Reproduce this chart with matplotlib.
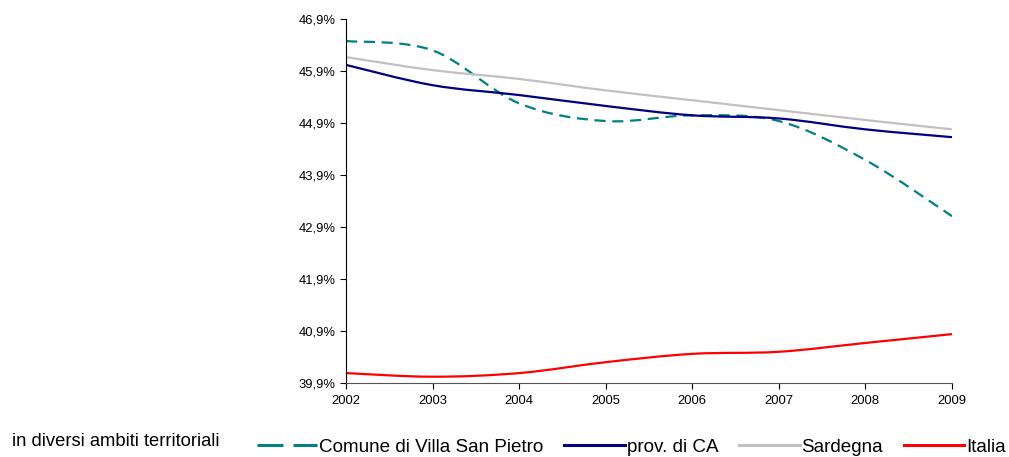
import numpy as np
import matplotlib.pyplot as plt
from matplotlib.path import Path
from matplotlib.patches import PathPatch
from matplotlib.lines import Line2D

plt.rcParams['font.family'] = ['Liberation Sans', 'DejaVu Sans']

# Data (percent)
years = [2002, 2003, 2004, 2005, 2006, 2007, 2008, 2009]
comune = [46.48, 46.30, 45.28, 44.94, 45.05, 44.94, 44.19, 43.11]
prov_ca = [46.02, 45.63, 45.44, 45.23, 45.05, 44.99, 44.78, 44.63]
sardegna = [46.17, 45.92, 45.75, 45.53, 45.34, 45.15, 44.96, 44.78]
italia = [40.09, 40.02, 40.09, 40.30, 40.46, 40.50, 40.67, 40.84]

yticks = [39.9, 40.9, 41.9, 42.9, 43.9, 44.9, 45.9, 46.9]
ytick_labels = ['39,9%', '40,9%', '41,9%', '42,9%', '43,9%', '44,9%', '45,9%', '46,9%']

series = [
    ('Comune di Villa San Pietro', comune, '#008080', (0, (5, 3)), (0, (8.5, 3.3))),
    ('prov. di CA', prov_ca, '#000080', '-', '-'),
    ('Sardegna', sardegna, '#C0C0C0', '-', '-'),
    ('Italia', italia, '#FF0000', '-', '-'),
]


def smooth_path(x, y):
    # Excel-style smoothed line: cubic bezier segments through the data points
    x = np.asarray(x, float)
    y = np.asarray(y, float)
    verts = [(x[0], y[0])]
    codes = [Path.MOVETO]
    n = len(x)
    for i in range(n - 1):
        x0, y0 = (x[i - 1], y[i - 1]) if i > 0 else (x[i], y[i])
        x3, y3 = (x[i + 2], y[i + 2]) if i + 2 < n else (x[i + 1], y[i + 1])
        c1 = (x[i] + (x[i + 1] - x0) / 6, y[i] + (y[i + 1] - y0) / 6)
        c2 = (x[i + 1] - (x3 - x[i]) / 6, y[i + 1] - (y3 - y[i]) / 6)
        verts += [c1, c2, (x[i + 1], y[i + 1])]
        codes += [Path.CURVE4] * 3
    return Path(verts, codes)


fig = plt.figure(figsize=(10.09, 4.57), dpi=100)
ax = fig.add_axes([0.343, 0.162, 0.6005, 0.796])

handles = []
for name, vals, color, ls, leg_ls in series:
    patch = PathPatch(smooth_path(years, vals), facecolor='none', edgecolor=color,
                      linewidth=1.6, linestyle=ls, capstyle='butt')
    ax.add_patch(patch)
    handles.append(Line2D([], [], color=color, linewidth=2.2, linestyle=leg_ls, label=name))

ax.set_xlim(2002, 2009)
ax.set_ylim(39.9, 46.9)
ax.set_xticks(years)
ax.set_xticklabels([str(y) for y in years], fontsize=9.4)
ax.set_yticks(yticks)
ax.set_yticklabels(ytick_labels, fontsize=9.4)
ax.tick_params(axis='y', length=4, width=0.8, pad=3.5, colors='#000000')
ax.tick_params(axis='x', length=4, width=0.8, pad=5, colors='#000000')
for s in ['top', 'right']:
    ax.spines[s].set_visible(False)
for s in ['left', 'bottom']:
    ax.spines[s].set_linewidth(0.8)
ax.spines['bottom'].set_color('#555555')

fig.text(12 / 1009, 1 - 441 / 457, 'in diversi ambiti territoriali', fontsize=13.2,
         va='center', ha='left')

fig.legend(handles=handles, loc='center left', bbox_to_anchor=(257 / 1009, 1 - 447 / 457),
           ncol=4, frameon=False, fontsize=13.6, handlelength=3.2, handletextpad=0.1,
           columnspacing=1.1, borderaxespad=0, borderpad=0)

fig.savefig('out.png', dpi=100)
